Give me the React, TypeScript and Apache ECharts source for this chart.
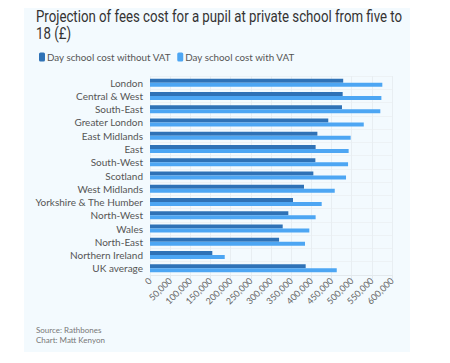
import React, { useEffect, useRef } from "react";
import * as echarts from "echarts";

const categories = [
  "London",
  "Central & West",
  "South-East",
  "Greater London",
  "East Midlands",
  "East",
  "South-West",
  "Scotland",
  "West Midlands",
  "Yorkshire & The Humber",
  "North-West",
  "Wales",
  "North-East",
  "Northern Ireland",
  "UK average",
];

const withoutVat = [
  479000, 477700, 476000, 442000, 415000, 410700, 410000, 405000, 381800, 354500,
  343000, 329000, 320000, 154500, 386000,
];

const withVat = [
  576000, 573600, 571000, 530000, 497500, 492500, 491000, 486000, 458000, 425600,
  410700, 395000, 384300, 185300, 463000,
];

const xTicks = { min: 0, max: 600000, interval: 50000 };

export default function App() {
  const ref = useRef<HTMLDivElement>(null);
  useEffect(() => {
    if (!ref.current) return;
    const chart = echarts.init(ref.current, null, { renderer: "svg" });
    chart.setOption({
      animation: false,
      backgroundColor: "#ffffff",
      graphic: [
        {
          type: "rect",
          shape: { x: 24, y: 0, width: 386, height: 352 },
          style: { fill: "#f3fafe" },
          z: -10,
          silent: true,
        },
        {
          type: "text",
          x: 36,
          y: 8.5,
          scaleX: 0.828,
          style: {
            text: "Projection of fees cost for a pupil at private school from five to\n18 (£)",
            font: "16px Roboto",
            fill: "#333333",
            lineHeight: 16.5,
            verticalAlign: "top",
          },
        },
        {
          type: "text",
          x: 36,
          y: 325,
          style: {
            text: "Source: Rathbones\nChart: Matt Kenyon",
            font: "8px Lato",
            fill: "#777777",
            lineHeight: 10,
            verticalAlign: "top",
          },
        },
      ],
      legend: {
        left: 34,
        top: 47,
        itemWidth: 6,
        itemHeight: 9,
        itemGap: 6,
        icon: "roundRect",
        textStyle: { fontFamily: "Lato", fontSize: 9.8, color: "#555555", padding: [0, 0, 0, -3] },
        data: ["Day school cost without VAT", "Day school cost with VAT"],
      },
      grid: { left: 150, right: 58, top: 76, bottom: 88, containLabel: false },
      xAxis: {
        type: "value",
        min: xTicks.min,
        max: xTicks.max,
        interval: xTicks.interval,
        axisLine: { show: true, lineStyle: { color: "#e3e9ed" } },
        axisTick: { show: true, length: 4, lineStyle: { color: "#e3e9ed" } },
        splitLine: { show: true, lineStyle: { color: "#e8eef2" } },
        axisLabel: {
          rotate: 45,
          fontFamily: "Lato",
          fontSize: 9,
          color: "#666666",
          margin: 4,
          formatter: (v: number) => v.toLocaleString("en-GB"),
        },
      },
      yAxis: {
        type: "category",
        inverse: true,
        data: categories,
        axisLine: { show: false },
        axisTick: { show: false },
        splitLine: { show: true, lineStyle: { color: "#edf2f5" } },
        axisLabel: { fontFamily: "Lato", fontSize: 10, color: "#555555", margin: 7 },
      },
      series: [
        {
          name: "Day school cost without VAT",
          type: "bar",
          data: withoutVat,
          barWidth: 4,
          barGap: "0%",
          itemStyle: { color: "#2f72b6" },
        },
        {
          name: "Day school cost with VAT",
          type: "bar",
          data: withVat,
          barWidth: 4,
          barGap: "0%",
          itemStyle: { color: "#4da6f3" },
        },
      ],
    });
    return () => chart.dispose();
  }, []);
  return <div ref={ref} style={{ width: 450, height: 363, margin: -8 }} />;
}
